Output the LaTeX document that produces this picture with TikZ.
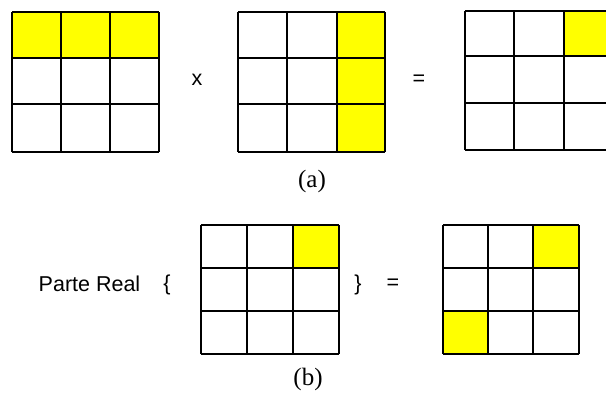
\documentclass[tikz,border=0pt]{standalone}
\usepackage{fontspec}
\setmainfont{Liberation Serif}
\newfontfamily\sansf{Liberation Sans}
\definecolor{hl}{RGB}{255,255,0}
\begin{document}
\begin{tikzpicture}[x=1pt,y=-1pt,
  gridline/.style={line width=2pt,black},
  cellfill/.style={fill=hl},
  lbl/.style={font=\sansf\fontsize{21.5}{23}\selectfont,inner sep=0pt},
  captext/.style={font=\fontsize{25}{27}\selectfont,inner sep=0pt}]
\useasboundingbox (0,0) rectangle (606,394);
% grid A
\fill[cellfill] (12,12) rectangle (159,58);
\foreach \x in {12,61,110,159} \draw[gridline] (\x,12) -- (\x,152);
\foreach \y in {12,58,104,152} \draw[gridline] (12,\y) -- (159,\y);
% grid B
\fill[cellfill] (337,12) rectangle (385,152);
\foreach \x in {238,287,337,385} \draw[gridline] (\x,12) -- (\x,152);
\foreach \y in {12,58,104,152} \draw[gridline] (238,\y) -- (385,\y);
% grid C
\fill[cellfill] (564,11) rectangle (613,56);
\foreach \x in {465,514,564,613} \draw[gridline] (\x,11) -- (\x,150);
\foreach \y in {11,56,103,150} \draw[gridline] (465,\y) -- (613,\y);
% grid D
\fill[cellfill] (293,225) rectangle (339,268);
\foreach \x in {201,247,293,339} \draw[gridline] (\x,225) -- (\x,354);
\foreach \y in {225,268,311,354} \draw[gridline] (201,\y) -- (339,\y);
% grid E
\fill[cellfill] (533,225) rectangle (579,268);
\fill[cellfill] (443,311) rectangle (488,354);
\foreach \x in {443,488,533,579} \draw[gridline] (\x,225) -- (\x,354);
\foreach \y in {225,268,311,354} \draw[gridline] (443,\y) -- (579,\y);
% labels
\node[lbl] (times) at (197,80) {x};
\node[lbl] (eqa) at (419,80) {=};
\node[captext] (capa) at (312,181) {(a)};
\node[lbl] (pr) at (89.5,284) {Parte Real};
\node[lbl] (lb) at (167,285) {\{};
\node[lbl] (rb) at (358,285) {\}};
\node[lbl] (eqb) at (393,284) {=};
\node[captext] (capb) at (308,379) {(b)};
\end{tikzpicture}
\end{document}
